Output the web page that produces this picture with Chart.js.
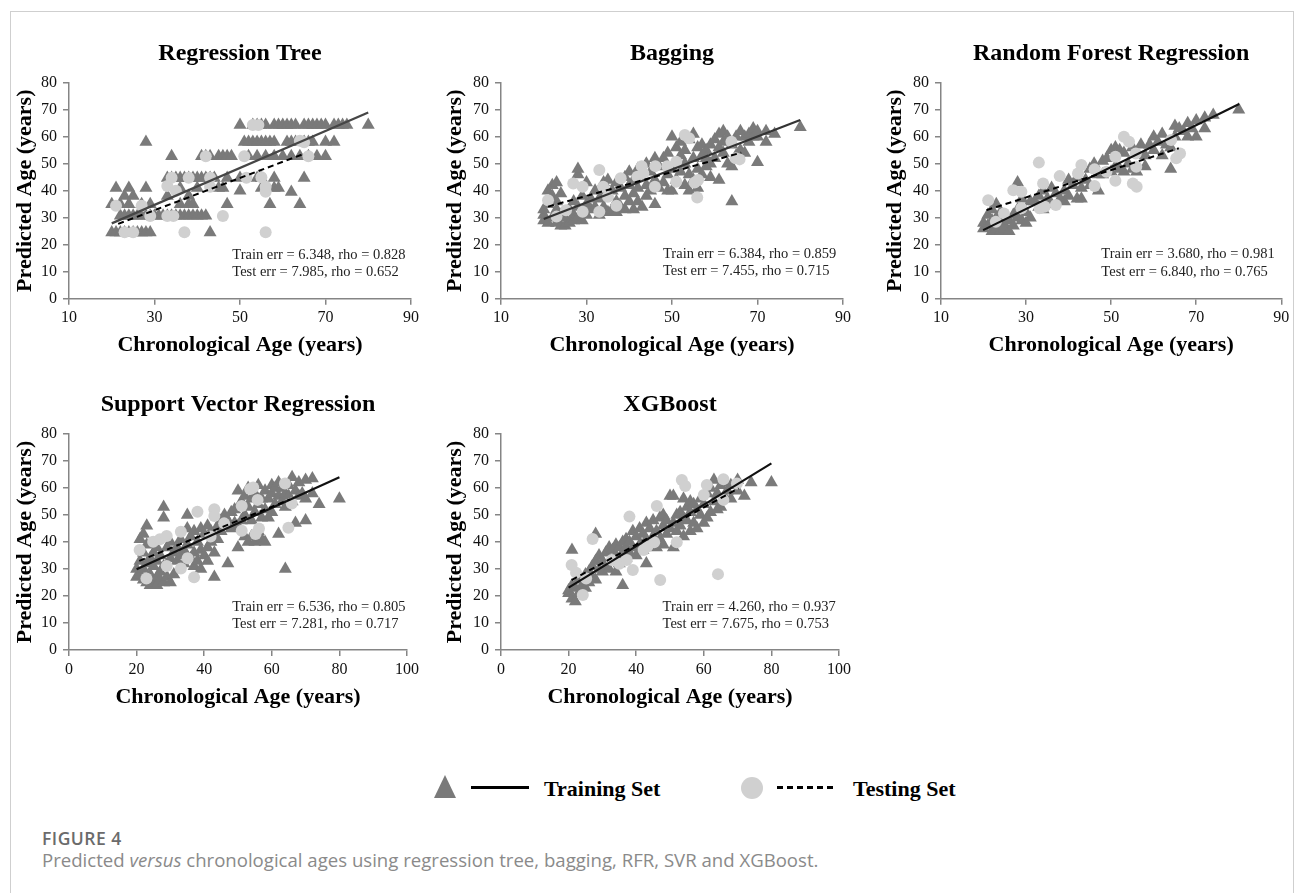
<!DOCTYPE html>
<html>
<head>
<meta charset="utf-8">
<script src="https://cdn.jsdelivr.net/npm/chart.js@4.4.0/dist/chart.umd.min.js"></script>
<style>
  body { margin: 0; background: #fff; width: 1296px; height: 893px; overflow: hidden; position: relative; }
  .frame { position: absolute; left: 10px; top: 11px; width: 1282px; height: 900px; border: 1px solid #cfcfcf; }
  canvas { position: absolute; }
  .leg { position: absolute; }
  .tri { width: 0; height: 0; border-left: 11.5px solid transparent; border-right: 11.5px solid transparent; border-bottom: 23px solid #7a7a7a; }
  .solid { height: 3px; background: #000; }
  .dash { height: 3px; background: repeating-linear-gradient(to right, #000 0 6px, transparent 6px 10px); }
  .dot { width: 22px; height: 22px; border-radius: 50%; background: #d0d0d0; }
  .lab { font: bold 22px "Liberation Serif", "Times New Roman", serif; line-height: 26px; color: #000; }
  .cap { position: absolute; left: 42px; font-family: "Open Sans", sans-serif; white-space: nowrap; }
</style>
</head>
<body>
<div class="frame"></div>
<canvas id="c0" width="420" height="330" style="left:12px;top:30px"></canvas>
<canvas id="c1" width="425" height="330" style="left:440px;top:30px"></canvas>
<canvas id="c2" width="418" height="330" style="left:875px;top:30px"></canvas>
<canvas id="c3" width="420" height="330" style="left:12px;top:382px"></canvas>
<canvas id="c4" width="425" height="330" style="left:440px;top:382px"></canvas>

<div class="leg tri" style="left:434px;top:775px"></div>
<div class="leg solid" style="left:471px;top:786px;width:58px"></div>
<div class="leg lab" style="left:544px;top:776px">Training Set</div>
<div class="leg dot" style="left:741px;top:777px"></div>
<div class="leg dash" style="left:777px;top:786px;width:58px"></div>
<div class="leg lab" style="left:853px;top:776px">Testing Set</div>

<div class="cap" style="top:826px;font-size:17.5px;font-weight:600;color:#6b6b6b;letter-spacing:0.5px">FIGURE 4</div>
<div class="cap" style="top:847px;font-size:18.6px;color:#8a8a8a">Predicted <i>versus</i> chronological ages using regression tree, bagging, RFR, SVR and XGBoost.</div>

<script>
const SERIF = '"Liberation Serif", "Times New Roman", serif';

// panel titles and axis labels
const panelTitles = ['Regression Tree', 'Bagging', 'Random Forest Regression', 'Support Vector Regression', 'XGBoost'];
const xAxisLabel = 'Chronological Age (years)';
const yAxisLabel = 'Predicted Age (years)';
const xRangeTop = [10, 90];     // first row: ticks 10,30,...,90
const xRangeBottom = [0, 100];  // second row: ticks 0,20,...,100
const yRange = [0, 80];

// ---- Regression tree (chronological, predicted) ----
const rtTrain = [
  [50,64.3],[53,64.3],[54,64.3],[55,64.3],[56,64.3],[58,64.3],[59,64.3],[60,64.3],[61,64.3],[62,64.3],[63,64.3],
  [65,64.3],[66,64.3],[67,64.3],[68,64.3],[69,64.3],[70,64.3],[72,64.3],[73,64.3],[74,64.3],[75,64.3],[80,64.3],
  [28,58],[51,58],[52,58],[53,58],[54,58],[55,58],[56,58],[57,58],[58,58],[61,58],[62,58],[63,58],[65,58],[66,58],[67,58],[70,58],[72,58],
  [34,52.8],[41,52.8],[42,52.8],[43,52.8],[45,52.8],[46,52.8],[47,52.8],[48,52.8],[52,52.8],[54,52.8],[56,52.8],
  [58,52.8],[60,52.8],[62,52.8],[64,52.8],[66,52.8],[68,52.8],[70,52.8],
  [33,44.7],[34,44.7],[35,44.7],[36,44.7],[37,44.7],[38,44.7],[39,44.7],[40,44.7],[41,44.7],[42,44.7],[43,44.7],
  [44,44.7],[47,44.7],[50,44.7],[54,44.7],[55,44.7],[58,44.7],[65,44.7],
  [21,41],[24,41],[28,41],[36,41],[40,41],[45,41],[46,41],[50,40],[55,41],[58,41],[59,41],[62,39.5],
  [23,38],[25,38],[33,38],[38,38],
  [20,35],[22,35],[24,35],[27,35],[29,35],[36,35],[38,35],[39,35],[47,35],[57,35],[64,35],
  [22,30.7],[23,30.7],[24,30.7],[25,30.7],[26,30.7],[27,30.7],[28,30.7],[29,30.7],[30,30.7],[31,30.7],[32,30.7],
  [33,30.7],[34,30.7],[35,30.7],[36,30.7],[37,30.7],[38,30.7],[39,30.7],[40,30.7],[41,30.7],[42,30.7],
  [20,24.5],[21,24.5],[22,24.5],[23,24.5],[24,24.5],[25,24.5],[26,24.5],[27,24.5],[28,24.5],[29,24.5],[43,24.5]
];
const rtTest = [
  [21,34.4],[23,24.6],[25,24.6],[27,34.4],[29,30.6],[33,41.7],[33,30.6],[34.4,30.6],[34,44.8],[35,40],[37,24.6],
  [38,44.8],[42,52.8],[43,44.8],[43,41.5],[46,30.6],[51,52.8],[51.5,44.8],[53,64.3],[54.3,64.3],[55,45],[56,41.5],
  [56,39.6],[56,24.6],[64,58.5],[66,52.8],[65,57.9]
];
const rtTrainFit = [[20,27.9],[80,69]];
const rtTestFit = [[21.5,27.7],[65.2,53.8]];
const rtStats = ['Train err = 6.348, rho = 0.828', 'Test err = 7.985, rho = 0.652'];

// ---- Bagging ----
const bagTrain = [
  [20,29],[20,31],[20,33],[21,28],[21,35],[21,40],[22,30],[22,38],[22,42],[23,28],[23,33],[23,43],[23,36],
  [24,27],[24,31],[24,39],[25,27],[25,30],[26,28],[26,33],[27,31],[27,36],[27,29],[28,30],[28,46],[28,48],[28,34],
  [29,29],[29,38],[30,31],[30,35],[30,43],[31,33],[31,37],[32,34],[32,40],[33,31],[33,37],[34,34],[34,43],[34,39],
  [35,32],[35,44],[35,38],[36,33],[36,40],[37,32],[37,36],[37,43],[38,34],[38,41],[39,33],[39,38],[39,45],
  [40,36],[40,42],[40,47],[41,33],[41,39],[41,44],[42,36],[42,48],[42,41],[43,34],[43,45],[44,38],[44,50],[44,42],
  [45,40],[45,47],[46,35],[46,44],[46,52],[47,41],[47,49],[48,43],[48,52],[49,40],[49,46],[49,54],[50,40],[50,48],
  [50,60],[51,44],[51,56],[52,47],[52,53],[52,58],[53,42],[53,50],[53,55],[54,40],[54,46],[54,59],[55,44],[55,52],
  [55,61],[56,41],[56,48],[56,56],[57,46],[57,53],[57,57],[58,49],[58,55],[58,52],[59,45],[59,50],[59,57],[60,52],
  [60,59],[61,44],[61,56],[61,61],[62,54],[62,62],[62,58],[63,50],[63,60],[64,36],[64,49],[64,57],[65,53],[65,60],
  [66,55],[66,62],[67,54],[67,60],[68,58],[68,61],[69,60],[69,63],[70,50.5],[70,60],[70,62],[72,58],[72,62],[74,61],[80,63.5]
];
const bagTest = [
  [21,36.5],[23,30.4],[25.2,32.8],[26.9,42.7],[29.1,41.5],[29.1,32.2],[33,47.7],[33,32.2],[33.9,41.5],[35,37.8],
  [37,34.4],[38,44.6],[41.9,45.2],[42.9,49.1],[43.3,46.4],[46.1,49.1],[46,41.5],[48.9,49.1],[51,50.7],[51,43.3],
  [53,60.6],[54,59.4],[55.3,43],[56.1,44],[55.9,37.5],[63.9,58.1],[64.9,52],[65.8,51.6]
];
const bagTrainFit = [[20,29.5],[80,66.2]];
const bagTestFit = [[21,34.1],[66.2,54.1]];
const bagStats = ['Train err = 6.384, rho = 0.859', 'Test err = 7.455, rho = 0.715'];

// ---- Random forest regression ----
const rfrTrain = [
  [20,26],[20,28],[21,27],[21,31],[22,25],[22,29],[22,33],[23,26],[23,30],[23,35],[24,25],[24,28],[24,32],[25,26],
  [25,27],[25,30],[26,25],[26,29],[27,27],[27,31],[28,43],[28,30],[28,33],[29,29],[29,37],[30,28],[30,32],[31,30],
  [31,36],[32,36],[33,34],[33,38],[34,33],[34,40],[35,37],[36,35],[36,41],[37,39],[38,37],[39,36],[39,40],[40,44],
  [40,38],[41,42],[42,37],[42,45],[43,41],[43,37],[44,44],[45,42],[45,48],[46,50],[47,40],[47,46],[48,51],[48,46],
  [49,52],[50,55],[50,47],[51,49],[51,56],[52,55],[52,48],[53,54],[53,47],[54,50],[55,56],[55,48],[56,54],[56,47],
  [57,57],[58,53],[58,49],[59,57],[60,60],[60,55],[61,58],[62,61],[62,53],[63,57],[64,56],[64,48],[65,64],[65,60],
  [66,63],[67,62],[68,60],[68,65],[69,63],[70,66],[70,60],[72,67],[72,63],[74,68],[80,70]
];
const rfrTest = [
  [21.1,36.5],[22.9,28.5],[24.8,31.6],[27,40.2],[28.9,39.6],[28.9,33.5],[33,50.4],[33.2,33.5],[34,42.7],[34.4,34.1],
  [37,34.7],[37.9,45.4],[43,49.5],[42.2,46.4],[46.1,47.9],[46.1,41.7],[48.9,47],[51,52.6],[51,43.7],[53,60],
  [54.2,58.1],[55.1,42.7],[56,41.5],[55.9,48.9],[55.8,53.8],[65.3,52],[66.2,53.8],[64.1,58.8]
];
const rfrTrainFit = [[19.9,25.4],[80.1,72.1]];
const rfrTestFit = [[20.7,32.8],[65.9,55.7]];
const rfrStats = ['Train err = 3.680, rho = 0.981', 'Test err = 6.840, rho = 0.765'];

// ---- Support vector regression ----
const svrTrain = [
  [20,30],[20,27],[21,28],[21,33],[21,41],[22,26],[22,30],[22,43],[22,36],[23,25],[23,32],[23,46],[23,39],[24,24],
  [24,28],[24,34],[25,25],[25,31],[25,36],[26,24],[26,27],[26,33],[26,38],[27,26],[27,29],[27,35],[28,25],[28,49],
  [28,53],[28,31],[29,27],[29,38],[30,25],[30,34],[30,40],[31,28],[31,36],[32,38],[32,33],[33,35],[33,41],[34,37],
  [34,32],[35,50],[35,39],[35,45],[36,34],[36,42],[37,36],[37,44],[37,31],[38,33],[38,40],[39,37],[39,45],[39,30],
  [40,35],[40,43],[41,38],[41,46],[41,33],[42,40],[42,44],[43,27],[43,42],[43,36],[44,41],[44,46],[45,44],[45,48],
  [46,46],[46,50],[47,32],[47,48],[48,45],[48,51],[49,47],[49,52],[50,38],[50,46],[50,59],[51,48],[51,55],[52,42],
  [52,50],[52,57],[53,40],[53,53],[53,60],[54,42],[54,48],[54,56],[55,40],[55,51],[55,58],[56,44],[56,54],[56,61],
  [57,41],[57,49],[57,56],[58,40],[58,52],[58,59],[59,49],[59,56],[60,51],[60,58],[60,61],[61,54],[61,60],[62,43],
  [62,57],[62,62],[63,55],[63,60],[64,30],[64,53],[64,58],[65,57],[65,61],[66,64],[66,55],[67,47],[67,59],[68,57],
  [68,62],[69,58],[70,48],[70,56],[70,63],[72,58],[72,63.5],[74,54],[80,56]
];
const svrTest = [
  [20.9,37],[22.9,26.5],[24.9,40.1],[26.9,41],[28.9,42.2],[28.9,31.1],[33.1,43.8],[33.1,30.2],[35.1,34],[37,26.9],
  [38,51.2],[43,52.1],[43,49.6],[41.9,42],[45.9,46.9],[51.1,53.3],[51.1,44.2],[53.6,59.6],[54.5,60.2],[55.2,43],
  [56.2,45],[55.8,55.6],[63.9,61.7],[64.9,45.3],[65.9,54.3]
];
const svrTrainFit = [[20,29.9],[80,64]];
const svrTestFit = [[20.8,33],[65.4,55.8]];
const svrStats = ['Train err = 6.536, rho = 0.805', 'Test err = 7.281, rho = 0.717'];

// ---- XGBoost ----
const xgbTrain = [
  [20,21],[20,22],[21,19],[21,37],[21,24],[22,18],[22,23],[23,21],[23,26],[24,24],[25,23],[25,28],[26,25],[26,29],
  [27,27],[27,31],[28,43],[28,33],[28,26],[29,30],[29,35],[30,29],[30,33],[31,31],[31,36],[32,30],[32,38],[33,33],
  [33,37],[34,29],[34,35],[34,39],[35,32],[35,38],[36,24],[36,36],[36,40],[37,34],[37,41],[37,38],[38,36],[38,40],
  [39,38],[39,44],[40,35],[40,42],[41,39],[41,45],[42,37],[42,43],[43,32],[43,41],[43,47],[44,39],[44,45],[45,42],
  [45,48],[46,38],[46,44],[47,41],[47,49],[48,39],[48,46],[48,50],[49,43],[49,48],[50,45],[50,57],[51,38],[51,47],
  [51,57],[52,44],[52,50],[53,46],[53,51],[54,42],[54,56],[54,49],[55,48],[55,53],[56,44],[56,51],[56,55],[57,47],
  [57,54],[58,45],[58,52],[59,50],[59,56],[60,47],[60,54],[61,49],[61,58],[62,51],[62,60],[63,55],[63,63],[64,52],
  [64,58],[65,53],[65,61],[66,57],[66,62],[67,59],[68,56],[68,61],[70,63],[70,59],[72,57],[74,62],[80,62]
];
const xgbTest = [
  [20.9,31.5],[22.2,28.6],[24.2,20.4],[25.2,26.5],[27.1,41.1],[32.8,33.3],[35,31.9],[37.2,33.3],[38,49.4],[39,29.6],
  [42.2,37],[43.3,38.3],[45.3,39.9],[46.1,53.3],[47.1,25.9],[52,39.9],[53.5,63],[54.5,60.7],[60,57.4],[60.9,61.1],
  [64.2,28.1],[65.8,63.2],[65.8,55.6],[69.8,61.7]
];
const xgbTrainFit = [[20,23.1],[80,69.1]];
const xgbTestFit = [[20.9,25.9],[70.3,59.9]];
const xgbStats = ['Train err = 4.260, rho = 0.937', 'Test err = 7.675, rho = 0.753'];

// pixel layout of each panel (canvas box, plot area, text centres); stat text anchor in data units
const layouts = [
  { left: 12,  top: 30,  w: 420, h: 330, L: 69,  R: 411,  T: 82.7, B: 298.7, titleY: 53.3, yTitleX: 25,  xTickY: 318, xTitleY: 345, statAt: [48.2, 16.2, 9.8] },
  { left: 440, top: 30,  w: 425, h: 330, L: 501, R: 843,  T: 82.7, B: 298.7, titleY: 53.3, yTitleX: 455, xTickY: 318, xTitleY: 345, statAt: [47.9, 16.6, 10.1] },
  { left: 875, top: 30,  w: 418, h: 330, L: 941, R: 1282, T: 82.7, B: 298.7, titleY: 53.3, yTitleX: 895, xTickY: 318, xTitleY: 345, statAt: [47.7, 16.5, 10] },
  { left: 12,  top: 382, w: 420, h: 330, L: 69,  R: 407,  T: 434,  B: 650,   titleY: 405,  yTitleX: 25,  xTickY: 670, xTitleY: 697, statAt: [48.3, 16, 9.5] },
  { left: 440, top: 382, w: 425, h: 330, L: 501, R: 839,  T: 434,  B: 650,   titleY: 405,  yTitleX: 455, xTickY: 670, xTitleY: 697, statAt: [47.8, 16, 9.5] }
];

const panels = [
  { train: rtTrain,  test: rtTest,  trainFit: rtTrainFit,  testFit: rtTestFit,  stats: rtStats,  xr: xRangeTop,    fitColor: '#464646' },
  { train: bagTrain, test: bagTest, trainFit: bagTrainFit, testFit: bagTestFit, stats: bagStats, xr: xRangeTop,    fitColor: '#333' },
  { train: rfrTrain, test: rfrTest, trainFit: rfrTrainFit, testFit: rfrTestFit, stats: rfrStats, xr: xRangeTop,    fitColor: '#111' },
  { train: svrTrain, test: svrTest, trainFit: svrTrainFit, testFit: svrTestFit, stats: svrStats, xr: xRangeBottom, fitColor: '#111' },
  { train: xgbTrain, test: xgbTest, trainFit: xgbTrainFit, testFit: xgbTestFit, stats: xgbStats, xr: xRangeBottom, fitColor: '#111' }
];

const toPts = arr => arr.map(([x, y]) => ({ x, y }));

// stats text drawn at data coordinates
const statsPlugin = {
  id: 'statsText',
  afterDatasetsDraw(chart, args, opts) {
    const { ctx, scales: { x, y } } = chart;
    ctx.save();
    ctx.font = '14.5px ' + SERIF;
    ctx.fillStyle = '#222';
    ctx.textBaseline = 'middle';
    ctx.textAlign = 'left';
    const px = x.getPixelForValue(opts.at[0]);
    ctx.fillText(opts.lines[0], px, y.getPixelForValue(opts.at[1]));
    ctx.fillText(opts.lines[1], px, y.getPixelForValue(opts.at[2]));
    ctx.restore();
  }
};

const axisGrey = '#858585';

panels.forEach((p, i) => {
  const lay = layouts[i];
  new Chart(document.getElementById('c' + i), {
    type: 'scatter',
    data: {
      datasets: [
        { type: 'line', data: toPts(p.testFit), borderColor: '#000', borderWidth: 2, borderDash: [6, 4], pointRadius: 0, order: 0 },
        { type: 'line', data: toPts(p.trainFit), borderColor: p.fitColor, borderWidth: 2.2, pointRadius: 0, order: 1 },
        { data: toPts(p.test), pointStyle: 'circle', pointRadius: 6, backgroundColor: '#d0d0d0', borderWidth: 0, order: 2 },
        { data: toPts(p.train), pointStyle: 'triangle', pointRadius: 7.5, backgroundColor: '#7a7a7a', borderWidth: 0, order: 3 }
      ]
    },
    options: {
      responsive: false,
      animation: false,
      events: [],
      layout: { padding: { left: 0, top: 0, bottom: 0, right: lay.left + lay.w - lay.R } },
      plugins: {
        legend: { display: false },
        tooltip: { enabled: false },
        title: {
          display: true,
          fullSize: false,
          text: panelTitles[i],
          color: '#000',
          font: { family: SERIF, size: 24, weight: 'bold' },
          padding: { top: lay.titleY - 14.4 - lay.top, bottom: lay.T - lay.titleY - 14.4 }
        },
        statsText: { lines: p.stats, at: lay.statAt }
      },
      scales: {
        x: {
          type: 'linear',
          min: p.xr[0], max: p.xr[1],
          ticks: { stepSize: 20, color: '#111', font: { family: SERIF, size: 16 }, padding: lay.xTickY - lay.B - 15.6, maxRotation: 0 },
          grid: { drawOnChartArea: false, drawTicks: true, tickLength: 6, color: axisGrey, lineWidth: 1.5 },
          border: { display: true, color: axisGrey, width: 1.5 },
          title: { display: true, text: xAxisLabel, color: '#000', font: { family: SERIF, size: 22, weight: 'bold' },
                   padding: { top: 0, bottom: lay.top + lay.h - 13.2 - lay.xTitleY } },
          afterFit: s => { s.height = lay.top + lay.h - lay.B; }
        },
        y: {
          min: yRange[0], max: yRange[1],
          ticks: { stepSize: 10, color: '#111', font: { family: SERIF, size: 16 }, padding: 6 },
          grid: { drawOnChartArea: false, drawTicks: true, tickLength: 6, color: axisGrey, lineWidth: 1.5 },
          border: { display: true, color: axisGrey, width: 1.5 },
          title: { display: true, text: yAxisLabel, color: '#000', font: { family: SERIF, size: 22, weight: 'bold' },
                   padding: { top: lay.yTitleX - lay.left - 13.2, bottom: 0 } },
          afterFit: s => { s.width = lay.L - lay.left; }
        }
      }
    },
    plugins: [statsPlugin]
  });
});
</script>
</body>
</html>
